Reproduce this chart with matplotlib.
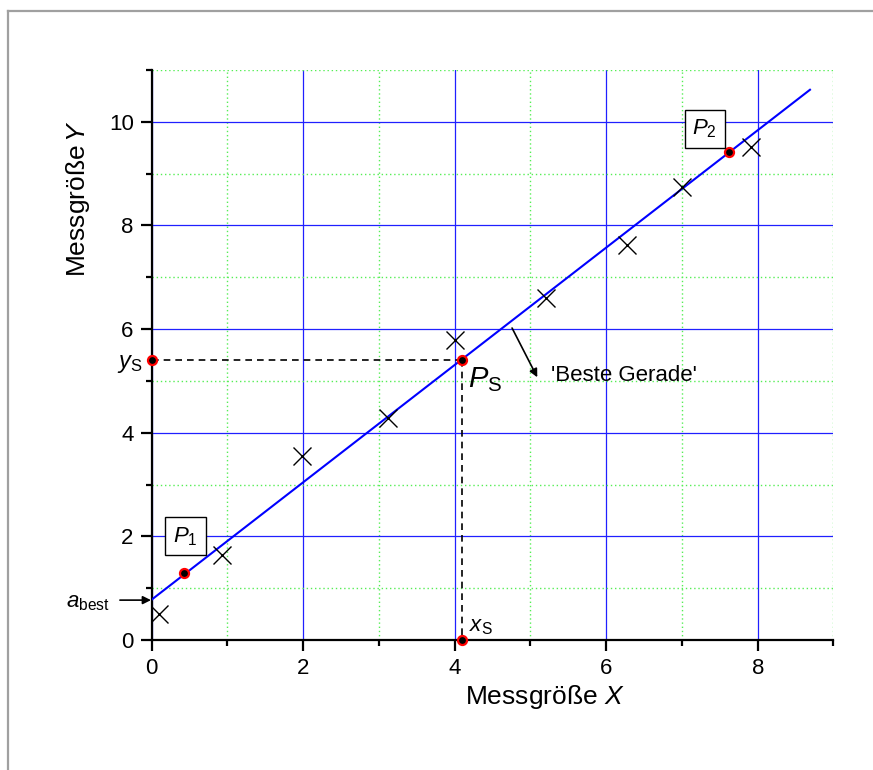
import matplotlib
matplotlib.use("Agg")
import matplotlib.pyplot as plt
from matplotlib.lines import Line2D
import numpy as np

plt.rcParams['font.family'] = ['Liberation Sans', 'DejaVu Sans']
plt.rcParams['mathtext.fontset'] = 'custom'
plt.rcParams['mathtext.rm'] = 'Liberation Sans'
plt.rcParams['mathtext.it'] = 'Liberation Sans:italic'
plt.rcParams['mathtext.bf'] = 'Liberation Sans:bold'

# measured data
x_meas = [0.10, 0.93, 1.98, 3.12, 4.00, 5.20, 6.27, 7.00, 7.91]
y_meas = [0.50, 1.64, 3.55, 4.28, 5.78, 6.59, 7.63, 8.75, 9.52]

# best line
a_best = 0.78
b_best = 1.132
line_x = [0.0, 8.69]

# special points
p1 = (0.426, 1.30)
p2 = (7.62, 9.41)
ps = (4.09, 5.40)

x_ticks = [0, 2, 4, 6, 8]
y_ticks = [0, 2, 4, 6, 8, 10]

fig = plt.figure(figsize=(8.73, 7.70), dpi=100)
ax = fig.add_axes([0.1738, 0.1688, 0.9547 - 0.1738, 0.9092 - 0.1688])

ax.set_xlim(0, 9)
ax.set_ylim(0, 11)
ax.set_xticks(x_ticks)
ax.set_yticks(y_ticks)
ax.set_xticks([1, 3, 5, 7, 9], minor=True)
ax.set_yticks([1, 3, 5, 7, 9, 11], minor=True)
ax.set_xticklabels([str(v) for v in x_ticks])
ax.set_yticklabels([str(v) for v in y_ticks])

for s in ['top', 'right']:
    ax.spines[s].set_visible(False)
for s in ['left', 'bottom']:
    ax.spines[s].set_linewidth(1.6)

ax.tick_params(which='major', direction='out', length=8, width=1.6, labelsize=16, pad=5)
ax.tick_params(which='minor', direction='out', length=4.5, width=1.6)

ax.set_axisbelow(True)
ax.grid(which='major', color='#2020ff', lw=0.9)
ax.grid(which='minor', color='#55ee55', lw=1.0, ls=(0, (1, 2)))

# best line
lx = np.array(line_x)
ax.plot(lx, a_best + b_best * lx, color='#0000ff', lw=1.5, zorder=3)

# measured points
ax.plot(x_meas, y_meas, ls='none', marker='x', ms=13, mew=1.0, color='black', zorder=4)

# dashed helper lines
ax.plot([0, ps[0]], [ps[1], ps[1]], color='black', ls=(0, (4, 3)), lw=1.2, zorder=3)
ax.plot([ps[0], ps[0]], [ps[1], 0], color='black', ls=(0, (4, 3)), lw=1.2, zorder=3)

# red dots
dot_x = [p1[0], p2[0], ps[0], 0, ps[0]]
dot_y = [p1[1], p2[1], ps[1], ps[1], 0]
ax.plot(dot_x, dot_y, ls='none', marker='o', ms=6.5, mfc='black', mec='red', mew=1.6,
        zorder=6, clip_on=False)

box = dict(boxstyle='square,pad=0.35', fc='white', ec='black', lw=1.0)
ax.text(0.446, 2.0, r'$P_{\mathrm{1}}$', fontsize=16, ha='center', va='center', bbox=box, zorder=7)
ax.text(7.30, 9.86, r'$P_{\mathrm{2}}$', fontsize=16, ha='center', va='center', bbox=box, zorder=7)

ax.text(4.18, 5.30, r'$P_{\mathrm{S}}$', fontsize=21, ha='left', va='top', zorder=7)
ax.text(-0.12, 5.33, r'$y_{\mathrm{S}}$', fontsize=17, ha='right', va='center', clip_on=False)
ax.text(4.19, 0.27, r'$x_{\mathrm{S}}$', fontsize=16, ha='left', va='center')
ax.text(-0.55, 0.72, r'$a_{\mathrm{best}}$', fontsize=16, ha='right', va='center', clip_on=False)

ax.annotate('', xy=(-0.01, 0.77), xytext=(-0.42, 0.77), xycoords='data',
            arrowprops=dict(arrowstyle='-|>', color='black', lw=1.2, mutation_scale=12,
                            shrinkA=0, shrinkB=0), annotation_clip=False)

ax.annotate('', xy=(5.09, 5.07), xytext=(4.757, 6.02), xycoords='data',
            arrowprops=dict(arrowstyle='-|>', color='black', lw=1.2, mutation_scale=12,
                            shrinkA=0, shrinkB=0), annotation_clip=False)
ax.text(5.27, 5.11, "'Beste Gerade'", fontsize=16, ha='left', va='center')

ax.text(0.577, -0.10, r'Messgröße $X$', fontsize=19, ha='center', va='center',
        transform=ax.transAxes)
ax.text(-0.108, 0.775, r'Messgröße$\,Y$', fontsize=19, ha='center', va='center',
        rotation=90, transform=ax.transAxes)

# outer frame (top and left edges)
fig.add_artist(Line2D([8 / 873, 1], [1 - 11 / 770, 1 - 11 / 770], transform=fig.transFigure,
                      color='#a0a0a0', lw=1.6))
fig.add_artist(Line2D([8 / 873, 8 / 873], [0, 1 - 11 / 770], transform=fig.transFigure,
                      color='#a0a0a0', lw=1.6))

fig.savefig('out.png', dpi=100)
